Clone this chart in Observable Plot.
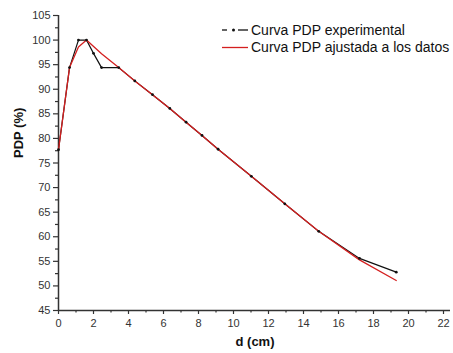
<!DOCTYPE html>
<html>
<head>
<meta charset="utf-8">
<script src="https://cdn.jsdelivr.net/npm/d3@7"></script>
<script src="https://cdn.jsdelivr.net/npm/@observablehq/plot@0.6"></script>
<style>
  html, body { margin: 0; padding: 0; background: #fff; }
  #chart { width: 453px; height: 353px; }
</style>
</head>
<body>
<div id="chart"></div>
<script>
// Experimental PDP curve
const dExp = [0, 0.63, 1.14, 1.6, 2.0, 2.46, 3.44, 4.36, 5.37, 6.36, 7.29, 8.2, 9.12, 11.02, 12.93, 14.87, 17.2, 19.3];
const pdpExp = [77.7, 94.4, 100, 100, 97.3, 94.4, 94.4, 91.7, 88.9, 86.1, 83.3, 80.6, 77.8, 72.3, 66.7, 61.1, 55.6, 52.8];
// Fitted PDP curve
const dFit = [0, 0.63, 1.14, 1.6, 2.46, 3.44, 4.36, 5.37, 6.36, 7.29, 8.2, 9.12, 11.02, 12.93, 14.87, 17.2, 19.3];
const pdpFit = [77.7, 94.4, 98.6, 100, 97.2, 94.4, 91.7, 88.9, 86.1, 83.3, 80.6, 77.8, 72.3, 66.7, 61.1, 55.3, 51.1];
// Ticks
const xMajor = [0, 2, 4, 6, 8, 10, 12, 14, 16, 18, 20, 22];
const xMinor = [1, 3, 5, 7, 9, 11, 13, 15, 17, 19, 21];
const yMajor = [45, 50, 55, 60, 65, 70, 75, 80, 85, 90, 95, 100, 105];
const yMinor = [47.5, 52.5, 57.5, 62.5, 67.5, 72.5, 77.5, 82.5, 87.5, 92.5, 97.5, 102.5];
// Labels
const xLabel = "d (cm)";
const yLabel = "PDP (%)";
const legendLabels = ["Curva PDP experimental", "Curva PDP ajustada a los datos"];

const expData = dExp.map((d, i) => ({d, pdp: pdpExp[i]}));
const fitData = dFit.map((d, i) => ({d, pdp: pdpFit[i]}));

const axisColor = "#333";
const font = "'Liberation Sans', Arial, sans-serif";

const chart = Plot.plot({
  width: 453,
  height: 353,
  marginLeft: 58,
  marginRight: 10,
  marginTop: 15,
  marginBottom: 43,
  style: {fontFamily: font, fontSize: "11px", color: axisColor, background: "#fff", overflow: "visible"},
  x: {domain: [0, 22]},
  y: {domain: [45, 105]},
  marks: [
    Plot.axisX({ticks: xMajor, tickSize: 4, tickPadding: 5, label: null, stroke: axisColor, strokeWidth: 1.2, fill: axisColor, fontSize: 11}),
    Plot.axisX({ticks: xMinor, tickSize: 2.5, text: null, label: null, stroke: axisColor, strokeWidth: 1.2}),
    Plot.axisY({ticks: yMajor, tickSize: 5, tickPadding: 3, label: null, stroke: axisColor, strokeWidth: 1.2, fill: axisColor, fontSize: 11}),
    Plot.axisY({ticks: yMinor, tickSize: 3, text: null, label: null, stroke: axisColor, strokeWidth: 1.2}),
    Plot.ruleY([45], {x1: 0, x2: 22.4, stroke: axisColor, strokeWidth: 1.5, clip: false}),
    Plot.ruleX([0], {y1: 45, y2: 105, stroke: axisColor, strokeWidth: 1.5}),
    Plot.line(expData, {x: "d", y: "pdp", stroke: "#111", strokeWidth: 1.2}),
    Plot.line(fitData, {x: "d", y: "pdp", stroke: "#d41f1f", strokeWidth: 1.3}),
    Plot.dot(expData, {x: "d", y: "pdp", r: 1.4, fill: "#111", stroke: "none"}),
    Plot.text([xLabel], {frameAnchor: "bottom", dx: 4, dy: 35, fontSize: 13, fontWeight: "bold", fill: "#111", fontFamily: font}),
    Plot.text([yLabel], {frameAnchor: "left", dx: -40, dy: -5, rotate: -90, fontSize: 13, fontWeight: "bold", fill: "#111", fontFamily: font})
  ]
});

document.getElementById("chart").appendChild(chart);

// Legend
const svg = d3.select(chart);
const lg = svg.append("g")
  .attr("font-family", font)
  .attr("font-size", 14)
  .attr("fill", "#111")
  .attr("text-anchor", "start");
const rows = [
  {y: 30, color: "#111", dot: true},
  {y: 47.5, color: "#d41f1f", dot: false}
];
rows.forEach((r, i) => {
  if (r.dot) {
    lg.append("line").attr("x1", 222).attr("x2", 227).attr("y1", r.y).attr("y2", r.y).attr("stroke", r.color).attr("stroke-width", 1.3);
    lg.append("circle").attr("cx", 233.5).attr("cy", r.y).attr("r", 1.5).attr("fill", r.color);
    lg.append("line").attr("x1", 238).attr("x2", 248).attr("y1", r.y).attr("y2", r.y).attr("stroke", r.color).attr("stroke-width", 1.3);
  } else {
    lg.append("line").attr("x1", 222).attr("x2", 248).attr("y1", r.y).attr("y2", r.y).attr("stroke", r.color).attr("stroke-width", 1.3);
  }
  lg.append("text")
    .attr("x", 251)
    .attr("y", r.y)
    .attr("dy", "0.35em")
    .attr("text-anchor", "start")
    .style("text-anchor", "start")
    .text(legendLabels[i]);
});
</script>
</body>
</html>
